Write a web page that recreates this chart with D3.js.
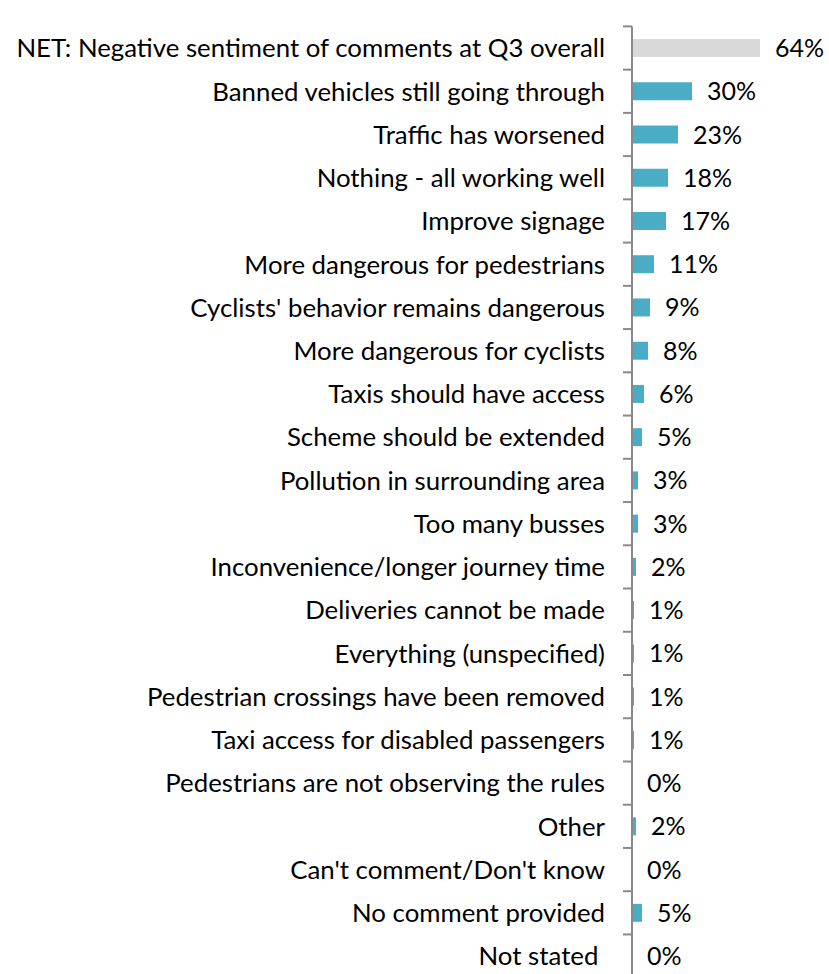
<!DOCTYPE html>
<html>
<head>
<meta charset="utf-8">
<script src="https://cdn.jsdelivr.net/npm/d3@7"></script>
<style>
  html, body { margin: 0; padding: 0; background: #fff; }
  svg { display: block; }
  text { font-family: Lato, "Open Sans", sans-serif; fill: #000; white-space: pre; }
</style>
</head>
<body>
<svg id="chart" width="829" height="974"></svg>
<script>
// Survey responses: share of comments by theme
const categories = [
  "NET: Negative sentiment of comments at Q3 overall",
  "Banned vehicles still going through",
  "Traffic has worsened",
  "Nothing - all working well",
  "Improve signage",
  "More dangerous for pedestrians",
  "Cyclists' behavior remains dangerous",
  "More dangerous for cyclists",
  "Taxis should have access",
  "Scheme should be extended",
  "Pollution in surrounding area",
  "Too many busses",
  "Inconvenience/longer journey time",
  "Deliveries cannot be made",
  "Everything (unspecified)",
  "Pedestrian crossings have been removed",
  "Taxi access for disabled passengers",
  "Pedestrians are not observing the rules",
  "Other",
  "Can't comment/Don't know",
  "No comment provided",
  "Not stated "
];
const values = [64, 30, 23, 18, 17, 11, 9, 8, 6, 5, 3, 3, 2, 1, 1, 1, 1, 0, 2, 0, 5, 0];
const netFlags = [true, false, false, false, false, false, false, false, false, false, false,
                  false, false, false, false, false, false, false, false, false, false, false];

const svg = d3.select("#chart");
const axisX = 632;
const plotTop = 26.4, rowStep = 43.24;
const plotBottom = plotTop + rowStep * categories.length;

const y = d3.scaleBand()
  .domain(categories)
  .range([plotTop, plotBottom])
  .paddingInner(0.584)
  .paddingOuter(0.292);

const x = d3.scaleLinear().domain([0, 64]).range([axisX, axisX + 128]);

const rows = categories.map((c, i) => ({ cat: c, val: values[i], net: netFlags[i] }));

// bars
svg.append("g").selectAll("rect")
  .data(rows)
  .join("rect")
  .attr("x", x(0))
  .attr("y", d => y(d.cat))
  .attr("width", d => x(d.val) - x(0))
  .attr("height", y.bandwidth())
  .attr("fill", d => d.net ? "#d9d9d9" : "#4bacc6");

// value labels
svg.append("g").selectAll("text")
  .data(rows)
  .join("text")
  .attr("x", d => x(d.val) + 15)
  .attr("y", d => y(d.cat) + y.bandwidth() / 2)
  .attr("dy", "0.36em")
  .attr("font-size", 25)
  .text(d => d.val + "%");

// category labels
svg.append("g").selectAll("text")
  .data(rows)
  .join("text")
  .attr("x", axisX - 27)
  .attr("y", d => y(d.cat) + y.bandwidth() / 2)
  .attr("dy", "0.36em")
  .attr("text-anchor", "end")
  .attr("font-size", 25.8)
  .text(d => d.cat);

// vertical axis with ticks on category boundaries
const axisG = svg.append("g").attr("stroke", "#898989").attr("stroke-width", 2);
axisG.append("line")
  .attr("x1", axisX).attr("x2", axisX)
  .attr("y1", plotTop).attr("y2", plotBottom);
axisG.selectAll("line.tick")
  .data(d3.range(categories.length + 1))
  .join("line")
  .attr("class", "tick")
  .attr("x1", axisX - 9).attr("x2", axisX)
  .attr("y1", i => plotTop + i * y.step())
  .attr("y2", i => plotTop + i * y.step());
</script>
</body>
</html>
